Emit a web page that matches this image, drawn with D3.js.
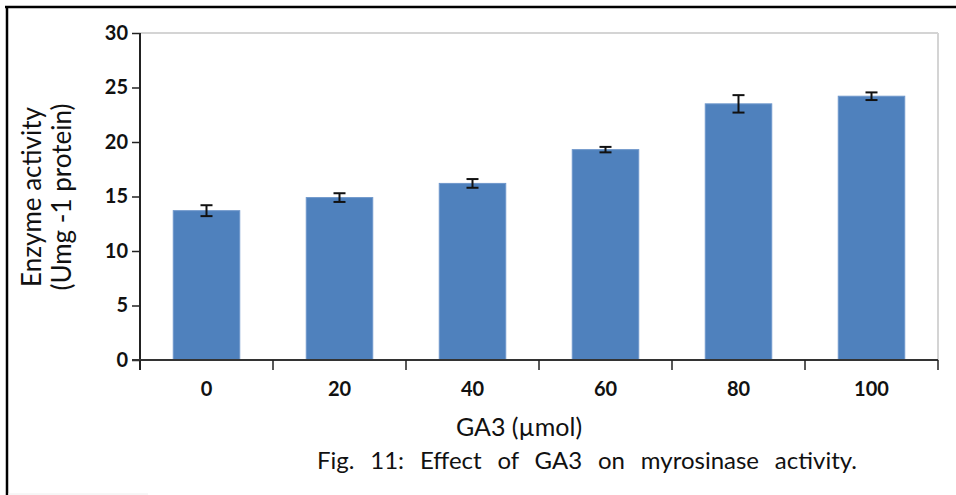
<!DOCTYPE html>
<html>
<head>
<meta charset="utf-8">
<script src="https://cdn.jsdelivr.net/npm/d3@7"></script>
<style>
  html, body { margin: 0; padding: 0; background: #fff; }
  svg { display: block; }
  text { font-family: Lato, "Open Sans", sans-serif; fill: #111; }
</style>
</head>
<body>
<svg id="chart" width="956" height="495"></svg>
<script>
// GA3 concentrations (µmol) and measured myrosinase activity
const doses = ["0", "20", "40", "60", "80", "100"];
const activity = [13.7, 14.9, 16.2, 19.3, 23.5, 24.2];
const errors = [0.5, 0.4, 0.4, 0.25, 0.8, 0.35];
const yTicks = [0, 5, 10, 15, 20, 25, 30];

const svg = d3.select("#chart");
const W = 956, H = 495;
const plotLeft = 140, plotRight = 938, plotTop = 33, plotBottom = 360;

// frame around the figure
svg.append("line").attr("x1", 5).attr("x2", W).attr("y1", 7).attr("y2", 7)
  .attr("stroke", "#000").attr("stroke-width", 2.5);
svg.append("line").attr("x1", 7).attr("x2", 7).attr("y1", 6).attr("y2", H)
  .attr("stroke", "#000").attr("stroke-width", 2.5);
svg.append("line").attr("x1", 8).attr("x2", 148).attr("y1", 494).attr("y2", 494)
  .attr("stroke", "#eee").attr("stroke-width", 1);

const x = d3.scaleBand().domain(doses).range([plotLeft, plotRight])
  .paddingInner(0.5).paddingOuter(0.25);
const y = d3.scaleLinear().domain([0, 30]).range([plotBottom, plotTop]);

// plot area outline (top and right)
svg.append("line").attr("x1", plotLeft).attr("x2", plotRight).attr("y1", y(30)).attr("y2", y(30))
  .attr("stroke", "#d4d4d4").attr("stroke-width", 2);
svg.append("line").attr("x1", plotRight).attr("x2", plotRight).attr("y1", y(30)).attr("y2", plotBottom)
  .attr("stroke", "#d4d4d4").attr("stroke-width", 2);

// bars
svg.append("g").selectAll("rect").data(doses).join("rect")
  .attr("x", d => x(d))
  .attr("width", x.bandwidth())
  .attr("y", (d, i) => y(activity[i]))
  .attr("height", (d, i) => plotBottom - y(activity[i]))
  .attr("fill", "#4f81bd")
  .attr("stroke", "#6f97cb")
  .attr("stroke-width", 1);

// error bars
const eb = svg.append("g").attr("stroke", "#111").attr("stroke-width", 2);
doses.forEach((d, i) => {
  const cx = x(d) + x.bandwidth() / 2;
  const hi = y(activity[i] + errors[i]), lo = y(activity[i] - errors[i]);
  eb.append("line").attr("x1", cx).attr("x2", cx).attr("y1", hi).attr("y2", lo);
  eb.append("line").attr("x1", cx - 6).attr("x2", cx + 6).attr("y1", hi).attr("y2", hi);
  eb.append("line").attr("x1", cx - 6).attr("x2", cx + 6).attr("y1", lo).attr("y2", lo);
});

// y axis
const yAxis = svg.append("g").attr("transform", `translate(${plotLeft},0)`)
  .call(d3.axisLeft(y).tickValues(yTicks).tickSize(8).tickPadding(4).tickSizeOuter(0));
yAxis.select(".domain").attr("stroke", "#222").attr("stroke-width", 2)
  .attr("d", `M0,${plotBottom + 10}V${plotTop}`);
yAxis.selectAll(".tick line").attr("stroke", "#222").attr("stroke-width", 1.5);
yAxis.selectAll(".tick text").attr("font-size", 20).attr("font-weight", 700)
  .attr("font-family", "Lato, sans-serif").attr("fill", "#111");

// x axis: labels under each bar, ticks on category boundaries
const xAxis = svg.append("g").attr("transform", `translate(0,${plotBottom})`)
  .call(d3.axisBottom(x).tickSize(0).tickPadding(22).tickSizeOuter(0));
xAxis.select(".domain").attr("stroke", "#333").attr("stroke-width", 2)
  .attr("d", `M${plotLeft - 8},0H${plotRight}`);
xAxis.selectAll(".tick text").attr("font-size", 20).attr("font-weight", 700)
  .attr("font-family", "Lato, sans-serif").attr("fill", "#111");
const step = x.step();
const bounds = d3.range(doses.length + 1).map(i => plotLeft + i * step);
svg.append("g").selectAll("line").data(bounds).join("line")
  .attr("x1", d => d).attr("x2", d => d)
  .attr("y1", plotBottom).attr("y2", plotBottom + 10)
  .attr("stroke", "#222").attr("stroke-width", 1.5);

// axis titles
const yt = svg.append("text").attr("transform", "translate(0,197) rotate(-90)")
  .attr("text-anchor", "middle").attr("font-size", 26).attr("fill", "#222");
yt.append("tspan").attr("x", 0).attr("y", 41).text("Enzyme activity");
yt.append("tspan").attr("x", 0).attr("y", 71).text("(Umg -1 protein)");

svg.append("text").attr("x", 519).attr("y", 436).attr("text-anchor", "middle")
  .attr("font-size", 25).attr("fill", "#222").text("GA3 (µmol)");

// caption, justified across its line by widening the word gaps
const captionText = "Fig. 11: Effect of GA3 on myrosinase activity.";
const caption = svg.append("text").attr("x", 317).attr("y", 469)
  .attr("font-size", 24).attr("fill", "#222").text(captionText);
const natural = caption.node().getComputedTextLength();
const gaps = captionText.split(" ").length - 1;
caption.style("word-spacing", `${Math.max(0, (540 - natural) / gaps)}px`);
</script>
</body>
</html>
